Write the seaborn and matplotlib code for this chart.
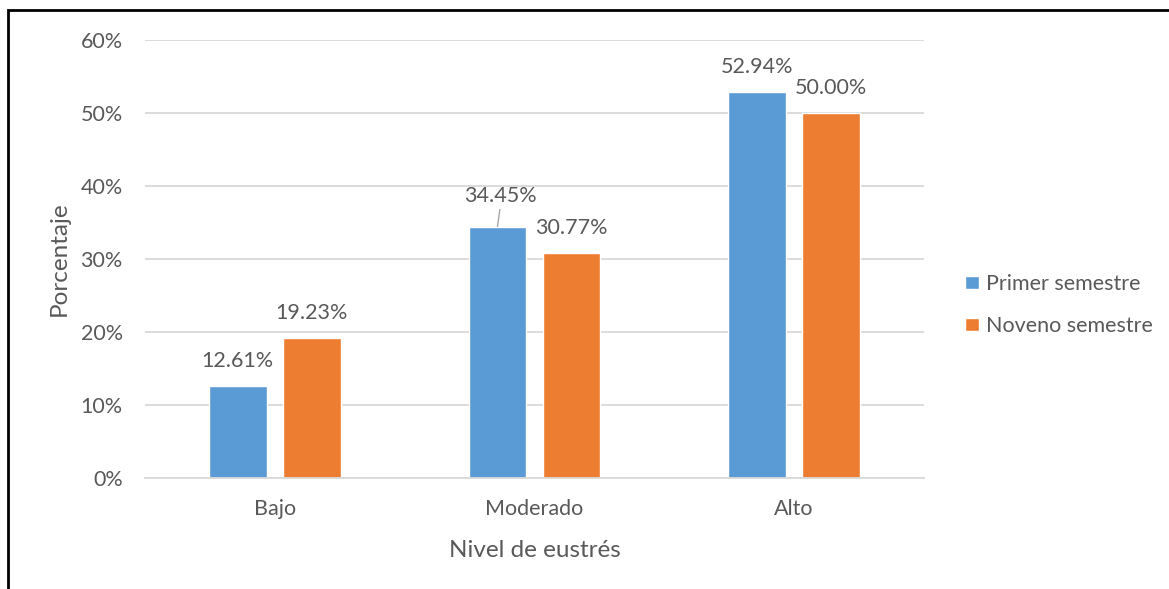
import matplotlib
matplotlib.use("Agg")
import matplotlib.pyplot as plt
import matplotlib.patches as mpatches
import seaborn as sns
import pandas as pd

categories = ["Bajo", "Moderado", "Alto"]
series_names = ["Primer semestre", "Noveno semestre"]
primer = [12.61, 34.45, 52.94]
noveno = [19.23, 30.77, 50.00]
y_ticks = [0, 10, 20, 30, 40, 50, 60]
y_tick_labels = ["0%", "10%", "20%", "30%", "40%", "50%", "60%"]
x_title = "Nivel de eustrés"
y_title = "Porcentaje"

df = pd.DataFrame({
    "Nivel": categories * 2,
    "Grupo": [series_names[0]] * 3 + [series_names[1]] * 3,
    "Porcentaje": primer + noveno,
})

sns.set_theme(style="white")
plt.rcParams["font.family"] = ["Lato", "DejaVu Sans"]
TXT = "#595959"
FS = 15.5
FT = 17.5

fig = plt.figure(figsize=(11.69, 5.89), dpi=100)
ax = fig.add_axes([145 / 1169, (589 - 478) / 589, (924 - 145) / 1169, (478 - 40) / 589])

sns.barplot(data=df, x="Nivel", y="Porcentaje", hue="Grupo", order=categories,
            hue_order=series_names, palette=["#5B9BD5", "#ED7D31"],
            width=0.57, gap=0.22, ax=ax, saturation=1, legend=True)

ax.set_ylim(0, 60)
ax.set_xlim(-0.5, 2.5)
ax.set_yticks(y_ticks)
ax.set_yticklabels(y_tick_labels)
ax.yaxis.grid(True, color="#D9D9D9", linewidth=1.3)
ax.set_axisbelow(True)
for s in ["top", "right", "left"]:
    ax.spines[s].set_visible(False)
ax.spines["bottom"].set_color("#D9D9D9")
ax.spines["bottom"].set_linewidth(1.3)
ax.tick_params(axis="both", length=0, labelsize=FS, colors=TXT)
ax.tick_params(axis="y", pad=16)
ax.tick_params(axis="x", pad=15)
ax.set_xlabel(x_title, fontsize=FT, color=TXT, labelpad=15)
ax.set_ylabel(y_title, fontsize=FT, color=TXT, labelpad=8)

for ci, cont in enumerate(ax.containers):
    vals = primer if ci == 0 else noveno
    for bi, bar in enumerate(cont):
        xc = bar.get_x() + bar.get_width() / 2
        h = bar.get_height()
        label = f"{vals[bi]:.2f}%"
        if ci == 0 and bi == 1:
            ax.annotate(label, xy=(xc, h), xytext=(2, 17.5), textcoords="offset points",
                        ha="center", va="baseline", fontsize=FS, color=TXT,
                        arrowprops=dict(arrowstyle="-", color="#A6A6A6", lw=1,
                                        shrinkA=0, shrinkB=0,
                                        relpos=(0.5, 0.0)))
        else:
            ax.annotate(label, xy=(xc, h), xytext=(0, 13.7), textcoords="offset points",
                        ha="center", va="baseline", fontsize=FS, color=TXT)

handles, labels = ax.get_legend_handles_labels()
ax.legend(handles, labels, loc="center left", bbox_to_anchor=(965 / 1169, (589 - 305) / 589),
          bbox_transform=fig.transFigure, frameon=False, fontsize=FS, labelcolor=TXT,
          handlelength=0.65, handleheight=0.55, handletextpad=0.33, labelspacing=1.05,
          borderpad=0, borderaxespad=0)

border = mpatches.Rectangle((8 / 1169, -0.1), 1.2, (589 - 10) / 589 + 0.1,
                            transform=fig.transFigure, fill=False, edgecolor="black",
                            linewidth=2, clip_on=False)
fig.add_artist(border)

fig.savefig("out.png", dpi=100)
